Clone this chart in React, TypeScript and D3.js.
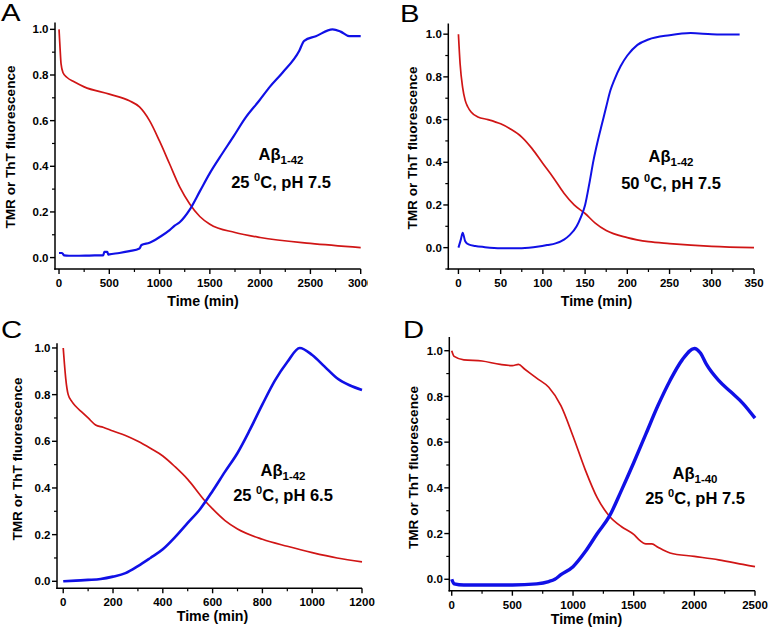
import React from "react";
import * as d3 from "d3";

const FONT = "'Liberation Sans', Arial, Helvetica, sans-serif";
const RED = "#d01515";
const BLUE = "#1010e6";

// ---------- data ----------
const Y_TICKS = [0, 0.2, 0.4, 0.6, 0.8, 1.0];
const Y_MINOR = [-0.1, 0.1, 0.3, 0.5, 0.7, 0.9];

const A_X_TICKS = [0, 500, 1000, 1500, 2000, 2500, 3000];
const A_X_MINOR = [250, 750, 1250, 1750, 2250, 2750];
const A_TIME_RED = [0, 5, 10, 20, 40, 77, 150, 250, 500, 700, 800, 900, 1000, 1100, 1200, 1300, 1400, 1500, 1750, 2000, 2500, 3000];
const A_RED = [1.0, 0.96, 0.92, 0.85, 0.81, 0.79, 0.77, 0.748, 0.716, 0.687, 0.66, 0.6, 0.51, 0.41, 0.31, 0.235, 0.18, 0.146, 0.11, 0.088, 0.062, 0.044];
const A_TIME_BLUE = [0, 30, 50, 100, 200, 300, 440, 450, 480, 490, 500, 600, 700, 800, 820, 900, 1000, 1100, 1150, 1200, 1300, 1400, 1500, 1600, 1734, 1850, 1990, 2100, 2222, 2388, 2438, 2554, 2720, 2800, 2886, 3000];
const A_BLUE = [0.02, 0.02, 0.01, 0.008, 0.008, 0.009, 0.01, 0.025, 0.025, 0.013, 0.014, 0.02, 0.028, 0.04, 0.055, 0.065, 0.09, 0.12, 0.14, 0.155, 0.21, 0.29, 0.37, 0.44, 0.53, 0.61, 0.687, 0.75, 0.81, 0.905, 0.95, 0.97, 1.0, 0.99, 0.97, 0.97];

const B_X_TICKS = [0, 50, 100, 150, 200, 250, 300, 350];
const B_X_MINOR = [25, 75, 125, 175, 225, 275, 325];
const B_TIME_RED = [0, 2, 5, 8, 11, 15, 23, 35, 50, 62, 75, 87, 100, 112, 125, 137, 150, 162, 175, 200, 225, 250, 300, 350];
const B_RED = [1.0, 0.86, 0.75, 0.69, 0.66, 0.635, 0.612, 0.6, 0.58, 0.555, 0.518, 0.465, 0.394, 0.33, 0.255, 0.2, 0.16, 0.115, 0.08, 0.047, 0.028, 0.019, 0.006, 0.0];
const B_TIME_BLUE = [0, 3, 5, 8, 12, 20, 30, 50, 75, 95, 105, 115, 125, 132, 140, 145, 150, 155, 160, 165, 170, 175, 180, 185, 192, 200, 212, 225, 250, 275, 300, 333];
const B_BLUE = [0.0, 0.04, 0.07, 0.03, 0.015, 0.008, 0.003, -0.003, -0.003, 0.005, 0.012, 0.02, 0.038, 0.06, 0.1, 0.143, 0.2, 0.3, 0.41, 0.5, 0.58, 0.66, 0.737, 0.79, 0.85, 0.9, 0.95, 0.975, 0.995, 1.005, 1.0, 0.998];

const C_X_TICKS = [0, 200, 400, 600, 800, 1000, 1200];
const C_X_MINOR = [100, 300, 500, 700, 900, 1100];
const C_TIME_RED = [0, 5, 10, 20, 35, 50, 75, 100, 130, 160, 200, 250, 300, 350, 400, 450, 500, 570, 600, 650, 700, 800, 900, 1000, 1100, 1200];
const C_RED = [1.0, 0.93, 0.87, 0.8, 0.77, 0.75, 0.725, 0.7, 0.67, 0.66, 0.644, 0.625, 0.6, 0.57, 0.537, 0.49, 0.437, 0.344, 0.31, 0.26, 0.224, 0.18, 0.15, 0.123, 0.1, 0.083];
const C_TIME_BLUE = [0, 50, 100, 150, 200, 250, 300, 350, 400, 450, 500, 550, 600, 650, 700, 750, 800, 850, 900, 950, 1000, 1050, 1100, 1150, 1200];
const C_BLUE = [0.0, 0.003, 0.006, 0.01, 0.02, 0.035, 0.065, 0.1, 0.137, 0.19, 0.25, 0.31, 0.387, 0.47, 0.55, 0.65, 0.758, 0.86, 0.94, 1.0, 0.97, 0.92, 0.87, 0.84, 0.82];

const D_X_TICKS = [0, 500, 1000, 1500, 2000, 2500];
const D_X_MINOR = [250, 750, 1250, 1750, 2250];
const D_TIME_RED = [0, 20, 100, 250, 400, 500, 550, 600, 700, 800, 900, 1000, 1100, 1200, 1300, 1400, 1500, 1550, 1600, 1650, 1700, 1800, 2000, 2200, 2400, 2500];
const D_RED = [1.0, 0.975, 0.96, 0.955, 0.94, 0.935, 0.94, 0.92, 0.88, 0.84, 0.76, 0.626, 0.48, 0.356, 0.276, 0.23, 0.196, 0.17, 0.155, 0.155, 0.14, 0.115, 0.1, 0.085, 0.065, 0.055];
const D_TIME_BLUE = [0, 20, 100, 300, 500, 700, 800, 850, 900, 1000, 1100, 1200, 1300, 1400, 1500, 1600, 1700, 1800, 1900, 2000, 2050, 2100, 2200, 2300, 2400, 2500];
const D_BLUE = [0.0, -0.02, -0.025, -0.025, -0.025, -0.02, -0.01, 0.0, 0.02, 0.055, 0.12, 0.2, 0.276, 0.39, 0.51, 0.635, 0.76, 0.87, 0.96, 1.01, 0.99, 0.94, 0.87, 0.82, 0.77, 0.705];

const PANEL_LETTERS = ["A", "B", "C", "D"];
const PEPTIDES = ["1-42", "1-42", "1-42", "1-40"];
const TEMPS = ["25 ", "50 ", "25 ", "25 "];
const PHS = ["C, pH 7.5", "C, pH 7.5", "C, pH 6.5", "C, pH 7.5"];
const Y_LABEL = "TMR or ThT fluorescence";
const X_LABEL = "Time (min)";

// ---------- layout ----------
type Cfg = {
  xDom: [number, number]; xR: [number, number];
  yDom: [number, number]; yR: [number, number];
  xTicks: number[]; xMinor: number[];
  tRed: number[]; red: number[]; tBlue: number[]; blue: number[];
  blueW: number;
  letterXY: [number, number];
  yLabXY: [number, number]; xLabXY: [number, number];
  annX: number; annY1: number; annY2: number;
  clipRight: number;
};

const PANELS: Cfg[] = [
  { xDom: [-40, 3000], xR: [55, 360.7], yDom: [-0.05, 1.03], yR: [269, 22.5],
    xTicks: A_X_TICKS, xMinor: A_X_MINOR, tRed: A_TIME_RED, red: A_RED, tBlue: A_TIME_BLUE, blue: A_BLUE, blueW: 2.2,
    letterXY: [1, 21], yLabXY: [10, 147], xLabXY: [203, 306], annX: 281, annY1: 160, annY2: 188, clipRight: 368 },
  { xDom: [-12, 350], xR: [448.3, 754], yDom: [-0.1, 1.05], yR: [269, 23.5],
    xTicks: B_X_TICKS, xMinor: B_X_MINOR, tRed: B_TIME_RED, red: B_RED, tBlue: B_TIME_BLUE, blue: B_BLUE, blueW: 2,
    letterXY: [400, 22], yLabXY: [412, 148], xLabXY: [596.5, 306], annX: 671, annY1: 162, annY2: 189, clipRight: 768 },
  { xDom: [-25, 1200], xR: [57, 362], yDom: [-0.03, 1.02], yR: [588.3, 343.3],
    xTicks: C_X_TICKS, xMinor: C_X_MINOR, tRed: C_TIME_RED, red: C_RED, tBlue: C_TIME_BLUE, blue: C_BLUE, blueW: 2.6,
    letterXY: [1, 338], yLabXY: [17, 459], xLabXY: [212.5, 621], annX: 283, annY1: 476, annY2: 501, clipRight: 384 },
  { xDom: [-20, 2500], xR: [449.3, 755], yDom: [-0.05, 1.06], yR: [590.7, 337], 
    xTicks: D_X_TICKS, xMinor: D_X_MINOR, tRed: D_TIME_RED, red: D_RED, tBlue: D_TIME_BLUE, blue: D_BLUE, blueW: 3.4,
    letterXY: [403, 338], yLabXY: [413, 467.5], xLabXY: [586.5, 624], annX: 695, annY1: 479, annY2: 504, clipRight: 768 },
];

function Panel({ cfg, idx }: { cfg: Cfg; idx: number }) {
  const x = d3.scaleLinear().domain(cfg.xDom).range(cfg.xR);
  const y = d3.scaleLinear().domain(cfg.yDom).range(cfg.yR);
  const line = d3.line<[number, number]>().x((d) => x(d[0])).y((d) => y(d[1])).curve(d3.curveMonotoneX);
  const redPts = cfg.tRed.map((t, i) => [t, cfg.red[i]] as [number, number]);
  const bluePts = cfg.tBlue.map((t, i) => [t, cfg.blue[i]] as [number, number]);
  const x0 = cfg.xR[0];
  const yb = cfg.yR[0];
  const fmt = d3.format(".1f");
  const clipId = `clip${idx}`;
  const yMinor = Y_MINOR.filter((v) => v >= cfg.yDom[0] && v <= cfg.yDom[1]);
  return (
    <g>
      <defs>
        <clipPath id={clipId}>
          <rect x={idx % 2 === 0 ? 0 : 384} y={0} width={cfg.clipRight - (idx % 2 === 0 ? 0 : 384)} height={633} />
        </clipPath>
      </defs>
      <g clipPath={`url(#${clipId})`}>
        {/* letter */}
        <text x={0} y={0} transform={`translate(${cfg.letterXY[0]},${cfg.letterXY[1]}) scale(1.22,1)`}
          fontFamily={FONT} fontSize={24} fill="#000">{PANEL_LETTERS[idx]}</text>
        {/* axes */}
        <line x1={x0} x2={x0} y1={cfg.yR[1]} y2={yb + 0.75} stroke="#000" strokeWidth={1.5} />
        <line x1={x0 - 0.75} x2={cfg.xR[1]} y1={yb} y2={yb} stroke="#000" strokeWidth={1.5} />
        {Y_TICKS.map((v) => (
          <g key={"yt" + v}>
            <line x1={x0 - 5} x2={x0} y1={y(v)} y2={y(v)} stroke="#000" strokeWidth={1.4} />
            <text x={x0 - 6.5} y={y(v)} dy="0.36em" textAnchor="end" fontFamily={FONT} fontWeight="bold" fontSize={11.5}>{fmt(v)}</text>
          </g>
        ))}
        {yMinor.map((v) => (
          <line key={"ym" + v} x1={x0 - 3} x2={x0} y1={y(v)} y2={y(v)} stroke="#000" strokeWidth={1.2} />
        ))}
        {cfg.xTicks.map((v) => (
          <g key={"xt" + v}>
            <line x1={x(v)} x2={x(v)} y1={yb} y2={yb + 5} stroke="#000" strokeWidth={1.4} />
            <text x={x(v)} y={yb + 18} textAnchor="middle" fontFamily={FONT} fontWeight="bold" fontSize={11.5}>{v}</text>
          </g>
        ))}
        {cfg.xMinor.map((v) => (
          <line key={"xm" + v} x1={x(v)} x2={x(v)} y1={yb} y2={yb + 3} stroke="#000" strokeWidth={1.2} />
        ))}
        {/* axis titles */}
        <text transform={`translate(${cfg.yLabXY[0]},${cfg.yLabXY[1]}) rotate(-90)`} dy="0.35em" textAnchor="middle"
          fontFamily={FONT} fontWeight="bold" fontSize={13.6}>{Y_LABEL}</text>
        <text x={cfg.xLabXY[0]} y={cfg.xLabXY[1]} textAnchor="middle" fontFamily={FONT} fontWeight="bold" fontSize={14.2}>{X_LABEL}</text>
        {/* curves */}
        <path d={line(redPts) || ""} fill="none" stroke={RED} strokeWidth={1.7} strokeLinejoin="round" />
        <path d={line(bluePts) || ""} fill="none" stroke={BLUE} strokeWidth={cfg.blueW} strokeLinejoin="round" />
        {/* annotation */}
        <text x={cfg.annX} y={cfg.annY1} textAnchor="middle" fontFamily={FONT} fontWeight="bold" fontSize={16.5}>
          <tspan>Aβ</tspan>
          <tspan fontSize={11.5} dy={4}>{PEPTIDES[idx]}</tspan>
        </text>
        <text x={cfg.annX} y={cfg.annY2} textAnchor="middle" fontFamily={FONT} fontWeight="bold" fontSize={16.5}>
          <tspan>{TEMPS[idx]}</tspan>
          <tspan fontSize={11} dy={-7}>0</tspan>
          <tspan dy={7}>{PHS[idx]}</tspan>
        </text>
      </g>
    </g>
  );
}

export default function App() {
  return (
    <svg width={768} height={633} style={{ position: "absolute", left: 0, top: 0, background: "#fff" }}>
      <rect width={768} height={633} fill="#fff" />
      {PANELS.map((p, i) => (
        <Panel key={i} cfg={p} idx={i} />
      ))}
    </svg>
  );
}
